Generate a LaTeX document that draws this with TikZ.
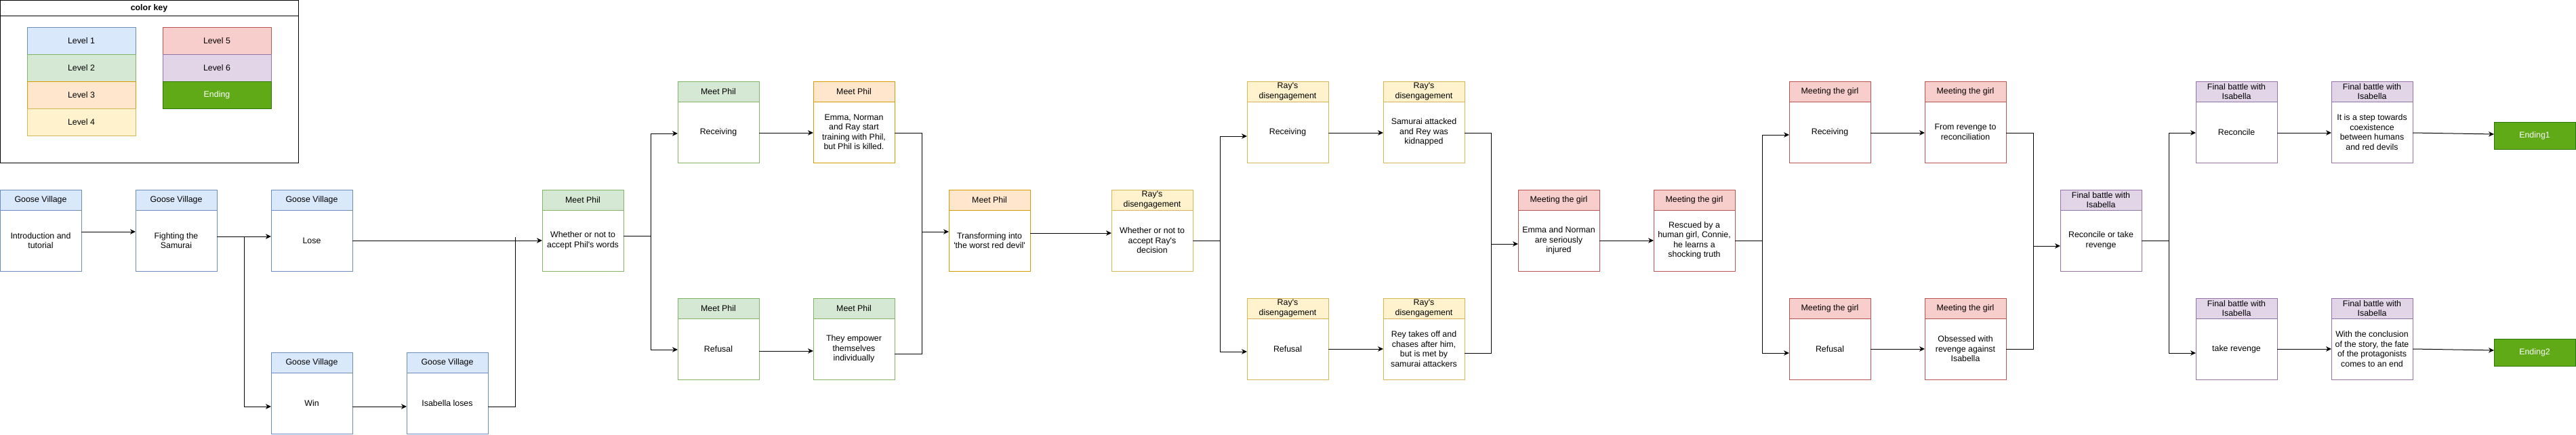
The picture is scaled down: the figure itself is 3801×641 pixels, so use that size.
\documentclass[tikz,border=0pt]{standalone}
\usepackage{fontspec}
\newfontfamily\dfont{Liberation Sans}
\usetikzlibrary{arrows.meta,calc}
\definecolor{L1f}{HTML}{DAE8FC}\definecolor{L1s}{HTML}{6C8EBF}
\definecolor{L2f}{HTML}{D5E8D4}\definecolor{L2s}{HTML}{82B366}
\definecolor{L3f}{HTML}{FFE6CC}\definecolor{L3s}{HTML}{D79B00}
\definecolor{L4f}{HTML}{FFF2CC}\definecolor{L4s}{HTML}{D6B656}
\definecolor{L5f}{HTML}{F8CECC}\definecolor{L5s}{HTML}{B85450}
\definecolor{L6f}{HTML}{E1D5E7}\definecolor{L6s}{HTML}{9673A6}
\definecolor{Ef}{HTML}{60A917}\definecolor{Es}{HTML}{2D7600}
\newcommand\stage[6]{%
  \node[box,draw=L#4s] (#1) at (#2,#3) {};
  \node[hdr,draw=L#4s,fill=L#4f] (#1h) at (#2,#3) {#5};
  \node[txt] (#1t) at ($(#1h.south)!0.5!(#1.south)$) {#6};
}
\begin{document}
\begin{tikzpicture}[x=1pt,y=-1pt,
  every node/.style={font=\dfont\fontsize{12.4}{14.5}\selectfont},
  box/.style={draw, fill=white, line width=1pt, minimum width=120pt, minimum height=120pt, inner sep=0pt, outer sep=0pt, anchor=north west},
  hdr/.style={draw, line width=1pt, minimum width=120pt, minimum height=30pt, inner sep=0pt, outer sep=0pt, anchor=north west, align=center},
  txt/.style={align=center, inner sep=0pt},
  cell/.style={draw, line width=1pt, minimum width=160pt, minimum height=40pt, inner sep=0pt, outer sep=0pt, anchor=north west},
  arr/.style={draw=black, line width=1pt, -{Stealth[length=8pt,width=7.5pt,inset=2.5pt]}},
  ln/.style={draw=black, line width=1pt}]
\useasboundingbox (0,0) rectangle (3801,641);
% colour key
\node[draw, line width=1pt, minimum width=440pt, minimum height=240pt, inner sep=0pt, outer sep=0pt, anchor=north west] (key) at (0,0) {};
\draw[line width=1pt] (0,23.5) -- (440,23.5);
\node[font=\dfont\bfseries\fontsize{12.4}{14.5}\selectfont] (keyt) at (220,12) {color key};
\node[cell, draw=L1s, fill=L1f] (k1) at (40,40) {Level 1};
\node[cell, draw=L2s, fill=L2f] (k2) at (40,80) {Level 2};
\node[cell, draw=L3s, fill=L3f] (k3) at (40,120) {Level 3};
\node[cell, draw=L4s, fill=L4f] (k4) at (40,160) {Level 4};
\node[cell, draw=L5s, fill=L5f] (k5) at (240,40) {Level 5};
\node[cell, draw=L6s, fill=L6f] (k6) at (240,80) {Level 6};
\node[cell, draw=Es, fill=Ef, text=white] (k7) at (240,120) {Ending};
% stages
\stage{gv1}{0}{280}{1}{Goose Village}{Introduction and\\tutorial}
\stage{gv2}{200}{280}{1}{Goose Village}{Fighting the\\Samurai}
\stage{lose}{400}{280}{1}{Goose Village}{Lose}
\stage{win}{400}{520}{1}{Goose Village}{Win}
\stage{il}{600}{520}{1}{Goose Village}{Isabella loses}
\stage{phil}{800}{280}{2}{Meet Phil}{Whether or not to\\accept Phil's words}
\stage{prec}{1000}{120}{2}{Meet Phil}{Receiving}
\stage{pref}{1000}{440}{2}{Meet Phil}{Refusal}
\stage{train}{1200}{120}{3}{Meet Phil}{Emma, Norman\\and Ray start\\training with Phil,\\but Phil is killed.}
\stage{emp}{1200}{440}{2}{Meet Phil}{They empower\\themselves\\individually}
\stage{trans}{1400}{280}{3}{Meet Phil}{Transforming into\\'the worst red devil'}
\stage{ray}{1640}{280}{4}{Ray's\\disengagement}{Whether or not to\\accept Ray's\\decision}
\stage{rrec}{1840}{120}{4}{Ray's\\disengagement}{Receiving}
\stage{rref}{1840}{440}{4}{Ray's\\disengagement}{Refusal}
\stage{kid}{2041}{120}{4}{Ray's\\disengagement}{Samurai attacked\\and Rey was\\kidnapped}
\stage{chase}{2041}{440}{4}{Ray's\\disengagement}{Rey takes off and\\chases after him,\\but is met by\\samurai attackers}
\stage{inj}{2240}{280}{5}{Meeting the girl}{Emma and Norman\\are seriously\\injured}
\stage{res}{2440}{280}{5}{Meeting the girl}{Rescued by a\\human girl, Connie,\\he learns a\\shocking truth}
\stage{grec}{2640}{120}{5}{Meeting the girl}{Receiving}
\stage{gref}{2640}{440}{5}{Meeting the girl}{Refusal}
\stage{recon}{2840}{120}{5}{Meeting the girl}{From revenge to\\reconciliation}
\stage{obs}{2840}{440}{5}{Meeting the girl}{Obsessed with\\revenge against\\Isabella}
\stage{rort}{3040}{280}{6}{Final battle with\\Isabella}{Reconcile or take\\revenge}
\stage{rc}{3240}{120}{6}{Final battle with\\Isabella}{Reconcile}
\stage{tr}{3240}{440}{6}{Final battle with\\Isabella}{take revenge}
\stage{coex}{3440}{120}{6}{Final battle with\\Isabella}{It is a step towards\\coexistence\\between humans\\and red devils}
\stage{concl}{3440}{440}{6}{Final battle with\\Isabella}{With the conclusion\\of the story, the fate\\of the protagonists\\comes to an end}
\node[cell, minimum width=120pt, draw=Es, fill=Ef, text=white] (end1) at (3680,180) {Ending1};
\node[cell, minimum width=120pt, draw=Es, fill=Ef, text=white] (end2) at (3680,500) {Ending2};
% connectors
\draw[arr] (gv1.east |- 0,342) -- (gv2.west |- 0,342);
\coordinate (j1) at (360,349);
\draw[arr] (gv2.east |- j1) -- (lose.west |- j1);
\draw[arr] (j1) |- (win.west |- 0,600);
\draw[arr] (win.east |- 0,600) -- (il.west |- 0,600);
\draw[arr] (lose.east |- 0,355) -- (phil.west |- 0,355);
\coordinate (j2) at (760,350);
\draw[ln] (il.east |- 0,600) -| (j2);
\coordinate (j3) at (960,348);
\draw[ln] (phil.east |- j3) -- (j3);
\draw[arr] (j3) |- (prec.west |- 0,197);
\draw[arr] (j3) |- (pref.west |- 0,516);
\draw[arr] (prec.east |- 0,196) -- (train.west |- 0,196);
\draw[arr] (pref.east |- 0,518) -- (emp.west |- 0,518);
\coordinate (j4t) at (1360,196);
\coordinate (j4b) at (1360,522);
\coordinate (j4) at (1360,342);
\draw[ln] (train.east |- j4t) -- (j4t) -- (j4b) -- (emp.east |- j4b);
\draw[arr] (j4) -- (trans.west |- j4);
\draw[arr] (trans.east |- 0,344) -- (ray.west |- 0,344);
\coordinate (j5) at (1800,355);
\draw[ln] (ray.east |- j5) -- (j5);
\draw[arr] (j5) |- (rrec.west |- 0,201);
\draw[arr] (j5) |- (rref.west |- 0,519);
\draw[arr] (rrec.east |- 0,196) -- (kid.west |- 0,196);
\draw[arr] (rref.east |- 0,515) -- (chase.west |- 0,515);
\coordinate (j6t) at (2200,196);
\coordinate (j6b) at (2200,521);
\coordinate (j6) at (2200,360);
\draw[ln] (kid.east |- j6t) -- (j6t) -- (j6b) -- (chase.east |- j6b);
\draw[arr] (j6) -- (inj.west |- j6);
\draw[arr] (inj.east |- 0,355) -- (res.west |- 0,355);
\coordinate (j7) at (2600,355);
\draw[ln] (res.east |- j7) -- (j7);
\draw[arr] (j7) |- (grec.west |- 0,199);
\draw[arr] (j7) |- (gref.west |- 0,521);
\draw[arr] (grec.east |- 0,196) -- (recon.west |- 0,196);
\draw[arr] (gref.east |- 0,515) -- (obs.west |- 0,515);
\coordinate (j8t) at (3000,196);
\coordinate (j8b) at (3000,515);
\coordinate (j8) at (3000,363);
\draw[ln] (recon.east |- j8t) -- (j8t) -- (j8b) -- (obs.east |- j8b);
\draw[arr] (j8) -- (rort.west |- j8);
\coordinate (j9) at (3200,355);
\draw[ln] (rort.east |- j9) -- (j9);
\draw[arr] (j9) |- (rc.west |- 0,196);
\draw[arr] (j9) |- (tr.west |- 0,521);
\draw[arr] (rc.east |- 0,196) -- (coex.west |- 0,196);
\draw[arr] (tr.east |- 0,515) -- (concl.west |- 0,515);
\draw[arr] (coex.east |- 0,196) -- (end1.west |- 0,198);
\draw[arr] (concl.east |- 0,515) -- (end2.west |- 0,517);
\end{tikzpicture}
\end{document}
